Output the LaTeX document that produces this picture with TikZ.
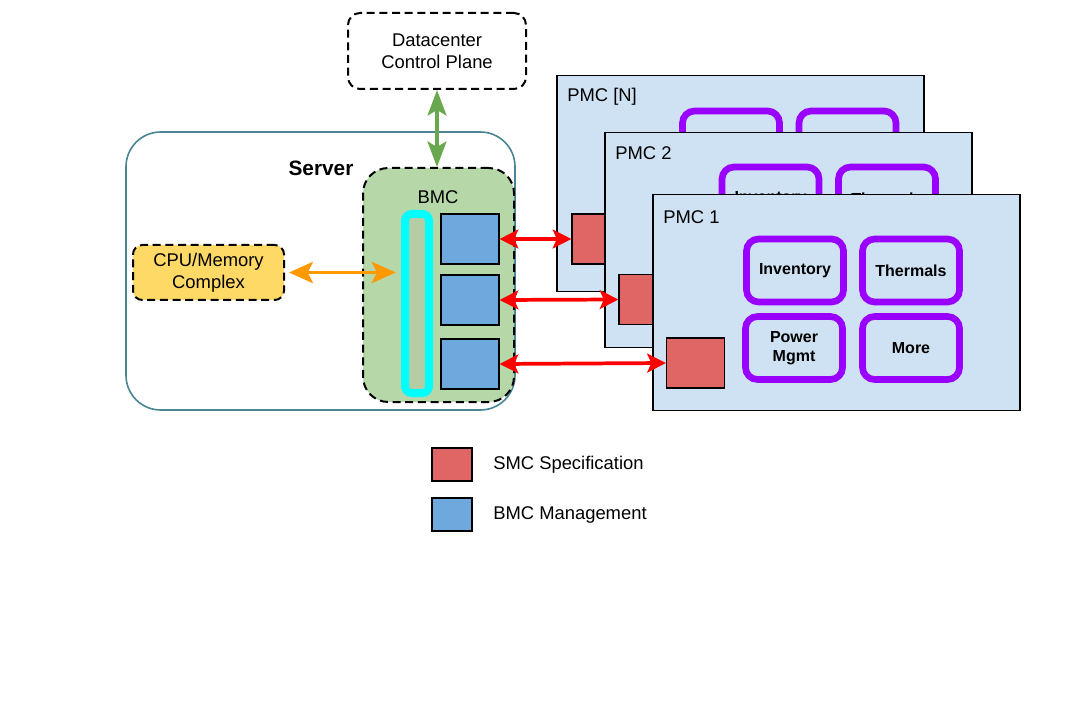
\documentclass[tikz,border=0pt]{standalone}
\usepackage{fontspec}
\setmainfont{Liberation Sans}
\usetikzlibrary{arrows.meta}
\definecolor{pmcfill}{HTML}{CFE2F3}
\definecolor{redsq}{HTML}{E06666}
\definecolor{bluesq}{HTML}{6FA8DC}
\definecolor{bmcgreen}{HTML}{B6D7A8}
\definecolor{bargreen}{HTML}{B5CDA5}
\definecolor{cpuyellow}{HTML}{FFD966}
\definecolor{arrred}{HTML}{FF0000}
\definecolor{arrorange}{HTML}{FF9900}
\definecolor{arrgreen}{HTML}{6AA84F}
\definecolor{funcpurple}{HTML}{9900FF}
\definecolor{barcyan}{HTML}{00FFFF}
\definecolor{serverteal}{HTML}{4A8595}
\begin{document}
\begin{tikzpicture}[x=0.75pt,y=-0.75pt,
  lbl/.style={font=\fontsize{13.8}{16}\selectfont, inner sep=0pt},
  dashbox/.style={draw=black, line width=1.5pt, dash pattern=on 6pt off 3.5pt, inner sep=0pt, align=center, font=\fontsize{13.8}{16.5}\selectfont},
  pmcbox/.style={draw=black, line width=0.8pt, fill=pmcfill, minimum width=275.25pt, minimum height=161.5pt, inner sep=0pt},
  funcbox/.style={draw=funcpurple, line width=5pt, rounded corners=9pt, fill=pmcfill, minimum width=72.75pt, minimum height=47.25pt, inner sep=0pt, align=center, font=\bfseries\fontsize{12}{14}\selectfont},
  sqbox/.style={draw=black, line width=0.8pt, minimum width=43.5pt, minimum height=37.5pt, inner sep=0pt},
  legsq/.style={draw=black, line width=0.8pt, minimum width=30pt, minimum height=24.75pt, inner sep=0pt},
  redarrow/.style={draw=arrred, line width=2.8pt, {Stealth[length=14pt,width=14pt,inset=3pt]}-{Stealth[length=14pt,width=14pt,inset=3pt]}},
  orangearrow/.style={draw=arrorange, line width=2.4pt, {Stealth[length=18pt,width=16pt,inset=4pt]}-{Stealth[length=18pt,width=16pt,inset=4pt]}},
  greenarrow/.style={draw=arrgreen, line width=3.2pt, {Stealth[length=19pt,width=14pt,inset=4pt]}-{Stealth[length=19pt,width=14pt,inset=4pt]}}
]
\useasboundingbox[fill=white] (0,0) rectangle (1077,723);

% Datacenter control plane
\node[dashbox, rounded corners=9pt, minimum width=133.5pt, minimum height=57pt] (dc) at (437,51) {Datacenter\\Control Plane};

% Server
\node[draw=serverteal, line width=1.2pt, rounded corners=26pt, minimum width=291.75pt, minimum height=208.5pt, inner sep=0pt] (server) at (320.5,271) {};
\node[font=\bfseries\fontsize{15.6}{18}\selectfont, inner sep=0pt] (serverlbl) at (321,168) {Server};

% BMC
\node[dashbox, fill=bmcgreen, rounded corners=19pt, minimum width=113.25pt, minimum height=175.5pt] (bmc) at (438.5,285) {};
\node[lbl] (bmclbl) at (438,197) {BMC};
\node[draw=barcyan, fill=bargreen, line width=6pt, rounded corners=5pt, minimum width=18pt, minimum height=134.25pt, inner sep=0pt] (bar) at (417,303.5) {};
\node[sqbox, fill=bluesq] (b1) at (470,239) {};
\node[sqbox, fill=bluesq] (b2) at (470,300) {};
\node[sqbox, fill=bluesq] (b3) at (470,364) {};

% CPU
\node[dashbox, fill=cpuyellow, rounded corners=7pt, minimum width=113.25pt, minimum height=41.25pt] (cpu) at (208.5,272.5) {CPU/Memory\\Complex};

% PMC [N]
\node[pmcbox] (pmcN) at (740.5,183.5) {};
\node[lbl, anchor=west] (pmcNlbl) at (567,97) {PMC [N]};
\node[sqbox, fill=redsq] (rN) at (601,239) {};
\node[funcbox] (invN) at (731,142.5) {Inventory};
\node[funcbox] (thN) at (847.5,142.5) {Thermals};

% PMC 2
\node[pmcbox] (pmc2) at (788.5,240) {};
\node[lbl, anchor=west] (pmc2lbl) at (615,153) {PMC 2};
\node[sqbox, fill=redsq] (r2) at (648,299.5) {};
\node[funcbox] (inv2) at (770.5,198.5) {Inventory};
\node[funcbox] (th2) at (887,198.5) {Thermals};

% PMC 1
\node[pmcbox] (pmc1) at (836.5,302.5) {};
\node[lbl, anchor=west] (pmc1lbl) at (663,217) {PMC 1};
\node[sqbox, fill=redsq] (r1) at (695.5,363) {};
\node[funcbox] (inv1) at (795,270.5) {Inventory};
\node[funcbox] (th1) at (911,270.5) {Thermals};
\node[funcbox] (pw1) at (794,348) {Power\\Mgmt};
\node[funcbox] (mo1) at (911,348) {More};

% Connectors
\draw[greenarrow] (dc.south) -- (dc.south |- bmc.north);
\draw[orangearrow, shorten <=3pt, shorten >=4pt] (cpu.east) -- (cpu.east -| bar.west);
\draw[redarrow] (b1.east) -- (rN.west);
\draw[redarrow] (b2.east) -- (r2.west);
\draw[redarrow] (b3.east) -- (r1.west);

% Legend
\node[legsq, fill=redsq] (legred) at (452,464.5) {};
\node[lbl, anchor=west] (legredlbl) at (493,465) {SMC Specification};
\node[legsq, fill=bluesq] (legblue) at (452,514.5) {};
\node[lbl, anchor=west] (legbluelbl) at (493,515) {BMC Management};
\end{tikzpicture}
\end{document}
